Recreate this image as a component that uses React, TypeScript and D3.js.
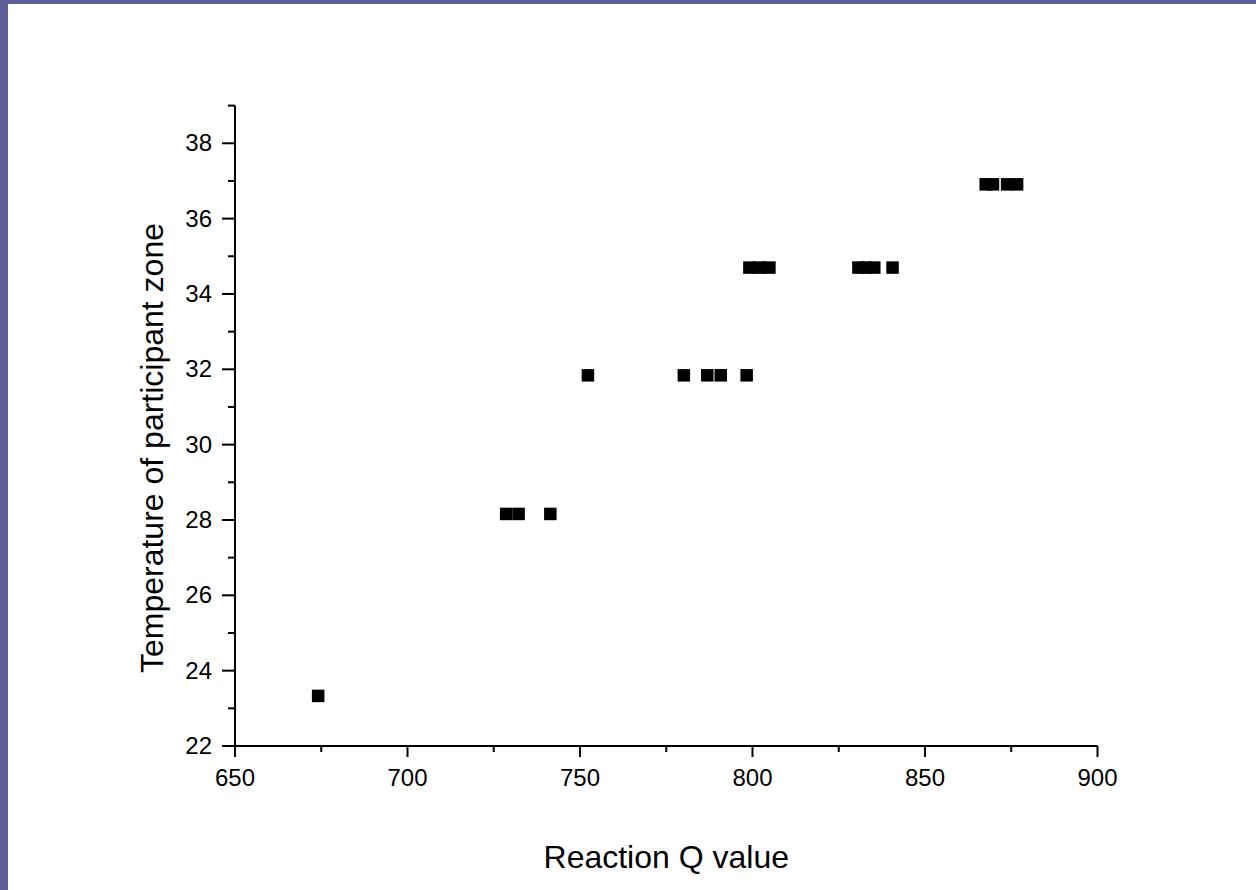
import React from "react";
import * as d3 from "d3";

const qValues: number[] = [
  674.1,
  728.6, 732.2, 741.4,
  752.3, 780.1, 786.9, 790.8, 798.3,
  799.1, 802.0, 804.9, 830.7, 833.0, 835.3, 840.6,
  867.6, 869.7, 873.8, 876.7,
];
const temperatures: number[] = [
  23.33,
  28.16, 28.16, 28.16,
  31.84, 31.84, 31.84, 31.84, 31.84,
  34.7, 34.7, 34.7, 34.7, 34.7, 34.7, 34.7,
  36.91, 36.91, 36.91, 36.91,
];
const xMajorTicks = [650, 700, 750, 800, 850, 900];
const xMinorTicks = [675, 725, 775, 825, 875];
const yMajorTicks = [22, 24, 26, 28, 30, 32, 34, 36, 38];
const yMinorTicks = [23, 25, 27, 29, 31, 33, 35, 37, 39];
const xTitle = "Reaction Q value";
const yTitle = "Temperature of participant zone";

const W = 1256;
const H = 890;
const FONT = "'Liberation Sans', Arial, Helvetica, sans-serif";

export default function App() {
  const x = d3.scaleLinear().domain([650, 900]).range([235, 1097.5]);
  const y = d3.scaleLinear().domain([22, 39]).range([746, 105.6]);
  const x0 = x(650);
  const y0 = y(22);
  const ms = 12.5;
  return (
    <svg
      width={W}
      height={H}
      style={{ position: "absolute", left: 0, top: 0, display: "block" }}
      fontFamily={FONT}
    >
      <rect x={0} y={0} width={W} height={H} fill="#5f5f97" />
      <rect x={8} y={4} width={W - 8} height={H - 4} fill="#ffffff" />
      {/* axes */}
      <line x1={x0} x2={x(900)} y1={y0} y2={y0} stroke="#000" strokeWidth={2} />
      <line x1={x0} x2={x0} y1={y0} y2={y(39)} stroke="#000" strokeWidth={2} />
      {xMajorTicks.map((t) => (
        <g key={"xm" + t}>
          <line x1={x(t)} x2={x(t)} y1={y0} y2={y0 + 11} stroke="#000" strokeWidth={2} />
          <text x={x(t)} y={786} textAnchor="middle" fontSize={24} fill="#000">
            {t}
          </text>
        </g>
      ))}
      {xMinorTicks.map((t) => (
        <line key={"xn" + t} x1={x(t)} x2={x(t)} y1={y0} y2={y0 + 6} stroke="#000" strokeWidth={2} />
      ))}
      {yMajorTicks.map((t) => (
        <g key={"ym" + t}>
          <line x1={x0 - 13} x2={x0} y1={y(t)} y2={y(t)} stroke="#000" strokeWidth={2} />
          <text x={212} y={y(t) + 8} textAnchor="end" fontSize={24} fill="#000">
            {t}
          </text>
        </g>
      ))}
      {yMinorTicks.map((t) => (
        <line key={"yn" + t} x1={x0 - 7} x2={x0} y1={y(t)} y2={y(t)} stroke="#000" strokeWidth={2} />
      ))}
      <text x={(x0 + x(900)) / 2} y={868} textAnchor="middle" fontSize={32} fill="#000">
        {xTitle}
      </text>
      <text
        transform={`translate(163, 448) rotate(-90)`}
        textAnchor="middle"
        fontSize={32}
        fill="#000"
      >
        {yTitle}
      </text>
      {qValues.map((q, i) => (
        <rect
          key={"p" + i}
          x={x(q) - ms / 2}
          y={y(temperatures[i]) - ms / 2}
          width={ms}
          height={ms}
          fill="#000"
        />
      ))}
    </svg>
  );
}
